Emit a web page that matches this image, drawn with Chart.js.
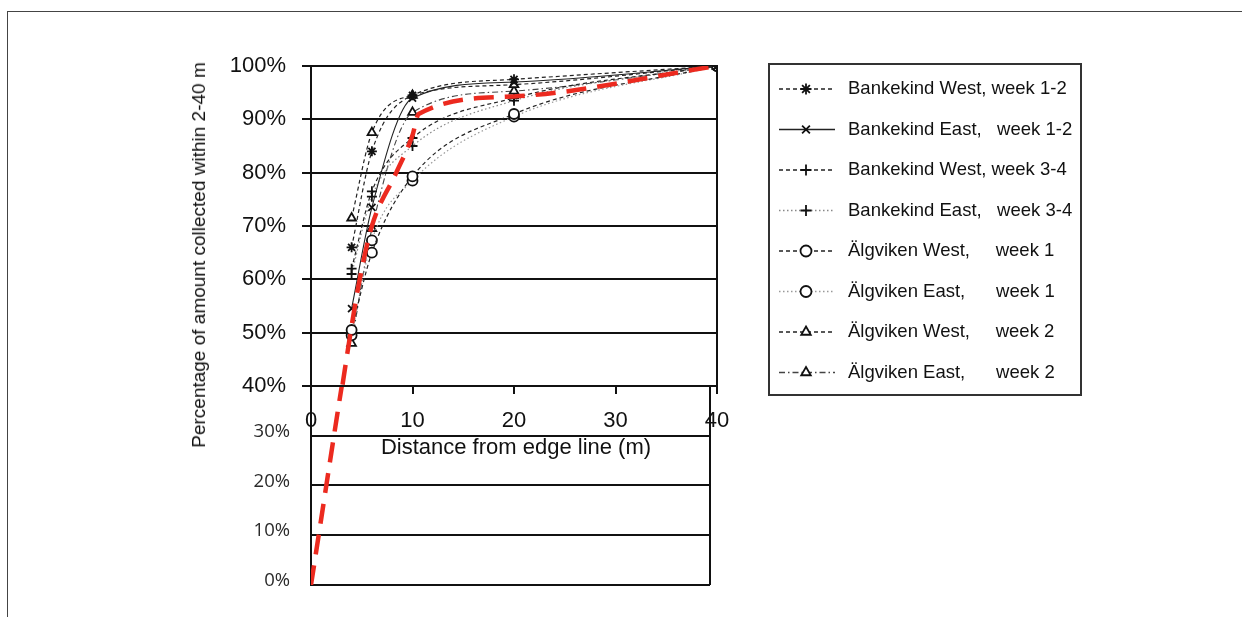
<!DOCTYPE html>
<html>
<head>
<meta charset="utf-8">
<title>Collected amount vs distance from edge line</title>
<script src="https://cdn.jsdelivr.net/npm/chart.js@4/dist/chart.umd.min.js"></script>
<style>
  html, body { margin: 0; padding: 0; background: #fff; }
  #page { position: relative; width: 1242px; height: 617px; overflow: hidden; background: #fff; }
  #frame { position: absolute; left: 7px; top: 11px; right: -2px; bottom: -2px;
           border-top: 1.5px solid #444; border-left: 1.5px solid #444; }
  canvas { position: absolute; left: 0; top: 0; }
  #lower { z-index: 1; }
  #upper { z-index: 2; }
  .title { position: absolute; z-index: 3; white-space: nowrap; color: #111;
           font-family: "Liberation Sans", Arial, sans-serif; }
  #xTitle { left: 516px; top: 447px; font-size: 22px; transform: translate(-50%, -50%); }
  #yTitle { left: 199px; top: 255px; font-size: 19px; transform: translate(-50%, -50%) rotate(-90deg); }
</style>
</head>
<body>
<div id="page">
  <div id="frame"></div>
  <canvas id="lower" width="1242" height="617"></canvas>
  <canvas id="upper" width="1242" height="617"></canvas>
  <div class="title" id="xTitle">Distance from edge line (m)</div>
  <div class="title" id="yTitle">Percentage of amount collected within 2-40 m</div>
</div>
<script>
// distances (m) where the samples were taken
const distances = [4, 6, 10, 20, 40];

// % of amount collected within 2-40 m, per site and period
const bankWest12 = [66, 84, 94.5, 97.5, 100];
const bankEast12 = [54.5, 73.5, 94, 97, 100];
const bankWest34 = [62, 76.5, 86.5, 94, 100];
const bankEast34 = [61, 75.5, 85, 93.5, 100];
const algWest1   = [50.5, 65, 79.3, 91, 100];
const algEast1   = [49.5, 67.3, 78.5, 90.5, 100];
const algWest2   = [71.5, 87.5, 94.5, 96.5, 100];
const algEast2   = [48, 69.5, 91.3, 95.3, 100];

// red fitted curve, extended down to 0 %
const fitDist = [0, 3.9, 4.8, 6, 8.4, 10, 10.6, 20, 40];
const fitPct  = [0, 50, 60, 70, 80, 87, 91, 94.3, 100];

// axis ranges / ticks
const distMin = 0, distMax = 40, distStep = 10;
const upperPctMin = 40, upperPctMax = 100;
const lowerPctMin = 0, lowerPctMax = 40;
const pctStep = 10;

const FONT = '"Liberation Sans", Arial, sans-serif';
const INK = '#111';

const toPoints = (xs, ys) => xs.map((x, i) => ({ x: x, y: ys[i] }));

// line style for every series
const seriesDefs = [
  { label: 'Bankekind West, week 1-2',   values: bankWest12, marker: 'star',     dash: [4, 3],         color: '#222', width: 1.2 },
  { label: 'Bankekind East,   week 1-2', values: bankEast12, marker: 'crossRot', dash: [],             color: '#222', width: 1.1 },
  { label: 'Bankekind West, week 3-4',   values: bankWest34, marker: 'cross',    dash: [4, 3],         color: '#222', width: 1.2 },
  { label: 'Bankekind East,   week 3-4', values: bankEast34, marker: 'cross',    dash: [1.5, 2.5],     color: '#888', width: 1.2 },
  { label: 'Älgviken West,     week 1',  values: algWest1,   marker: 'circle',   dash: [4, 3],         color: '#222', width: 1.2 },
  { label: 'Älgviken East,      week 1', values: algEast1,   marker: 'circle',   dash: [1.5, 2.5],     color: '#999', width: 1.2 },
  { label: 'Älgviken West,     week 2',  values: algWest2,   marker: 'triangle', dash: [4, 3],         color: '#222', width: 1.2 },
  { label: 'Älgviken East,      week 2', values: algEast2,   marker: 'triangle', dash: [6, 3, 1.5, 3], color: '#444', width: 1.1 }
];

function fitDataset() {
  return {
    label: 'Fitted curve',
    hideInLegend: true,
    data: toPoints(fitDist, fitPct),
    showLine: true,
    borderColor: '#ec2a1f',
    borderWidth: 4.5,
    borderDash: [20, 11],
    cubicInterpolationMode: 'monotone',
    pointRadius: 0,
    order: 0
  };
}

const upperDatasets = [fitDataset()].concat(seriesDefs.map(s => ({
  label: s.label,
  data: toPoints(distances, s.values),
  showLine: true,
  borderColor: s.color,
  borderWidth: s.width,
  borderDash: s.dash,
  cubicInterpolationMode: 'monotone',
  pointStyle: s.marker,
  pointRadius: 5,
  pointBorderWidth: 1.8,
  pointBorderColor: '#111',
  pointBackgroundColor: '#fff',
  order: 1
})));

// legend drawn inside its own box to the right of the plot
const legendBox = {
  id: 'legendBox',
  afterDraw(chart) {
    const ctx = chart.ctx;
    ctx.save();
    ctx.lineWidth = 2;
    ctx.strokeStyle = '#333';
    ctx.strokeRect(769, 64, 312, 331);
    ctx.font = '18.5px ' + FONT;
    ctx.textBaseline = 'middle';
    chart.data.datasets.filter(ds => !ds.hideInLegend).forEach((ds, i) => {
      const y = 89 + i * 40.5;
      ctx.strokeStyle = ds.borderColor;
      ctx.lineWidth = ds.borderWidth + 0.3;
      ctx.setLineDash(ds.borderDash);
      ctx.beginPath();
      ctx.moveTo(779, y);
      ctx.lineTo(835, y);
      ctx.stroke();
      ctx.setLineDash([]);
      ctx.fillStyle = ds.pointBackgroundColor;
      ctx.strokeStyle = ds.pointBorderColor;
      ctx.lineWidth = ds.pointBorderWidth;
      Chart.helpers.drawPoint(ctx, {
        pointStyle: ds.pointStyle, radius: ds.pointRadius + 0.5,
        borderWidth: ds.pointBorderWidth, rotation: 0
      }, 806, y);
      ctx.fillStyle = INK;
      ctx.fillText(ds.label, 848, y);
    });
    ctx.restore();
  }
};

Chart.defaults.animation = false;
Chart.defaults.font.family = FONT;
Chart.defaults.color = INK;

// upper part: 40 % - 100 %
new Chart(document.getElementById('upper'), {
  type: 'scatter',
  data: { datasets: upperDatasets },
  plugins: [legendBox],
  options: {
    responsive: false,
    layout: { padding: { left: 0, top: 66, right: 525, bottom: 171 } },
    plugins: { legend: { display: false }, tooltip: { enabled: false } },
    scales: {
      x: {
        type: 'linear', min: distMin, max: distMax,
        afterFit: s => { s.height = 60; },
        ticks: { stepSize: distStep, padding: 14, font: { size: 22 }, color: INK },
        grid: { drawOnChartArea: false, drawTicks: true, tickLength: 8, lineWidth: 2, color: INK },
        border: { display: true, width: 2, color: INK }
      },
      y: {
        type: 'linear', min: upperPctMin, max: upperPctMax,
        afterFit: s => { s.width = 311; },
        ticks: { stepSize: pctStep, padding: 16, font: { size: 22 }, color: INK, callback: v => v + '%' },
        grid: { lineWidth: 2, color: INK, tickLength: 9 },
        border: { display: true, width: 2, color: INK }
      },
      y2: {
        type: 'linear', position: 'right', min: upperPctMin, max: upperPctMax,
        afterFit: s => { s.width = 0; },
        ticks: { display: false },
        grid: { drawOnChartArea: false, drawTicks: false },
        border: { display: true, width: 2, color: INK }
      }
    }
  }
});

// lower part: 0 % - 40 %, same fitted curve continued
new Chart(document.getElementById('lower'), {
  type: 'scatter',
  data: { datasets: [fitDataset()] },
  options: {
    responsive: false,
    layout: { padding: { left: 0, top: 386, right: 532, bottom: 30 } },
    plugins: { legend: { display: false }, tooltip: { enabled: false } },
    scales: {
      x: { type: 'linear', min: distMin, max: distMax, display: false },
      y: {
        type: 'linear', min: lowerPctMin, max: lowerPctMax,
        afterFit: s => { s.width = 311; },
        ticks: {
          stepSize: pctStep, padding: 21, labelOffset: -4, color: '#2a2a2a',
          font: { size: 18.5, family: '"Open Sans", "Liberation Sans", sans-serif' },
          callback: v => (v === lowerPctMax ? '' : v + '%')
        },
        grid: { lineWidth: 2, color: INK, drawTicks: false },
        border: { display: true, width: 2, color: INK }
      },
      y2: {
        type: 'linear', position: 'right', min: lowerPctMin, max: lowerPctMax,
        afterFit: s => { s.width = 0; },
        ticks: { display: false },
        grid: { drawOnChartArea: false, drawTicks: false },
        border: { display: true, width: 2, color: INK }
      }
    }
  }
});
</script>
</body>
</html>
